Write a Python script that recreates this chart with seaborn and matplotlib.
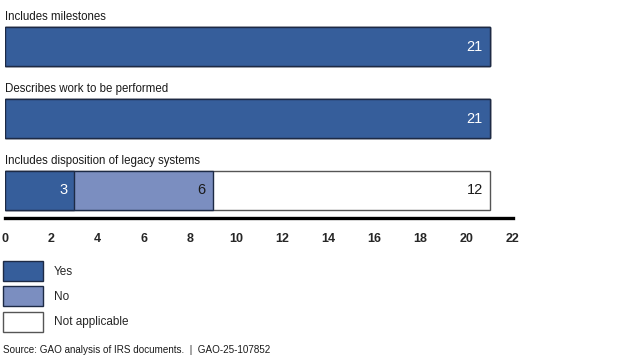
import matplotlib
matplotlib.use("Agg")
import matplotlib.pyplot as plt
import seaborn as sns
from matplotlib.patches import Patch

# ──────────────────────────────────────────────
# Data
# ──────────────────────────────────────────────
categories = [
    "Includes milestones",
    "Describes work to be performed",
    "Includes disposition of legacy systems",
]
yes_counts = [21, 21, 3]
no_counts = [0, 0, 6]
na_counts = [0, 0, 12]
legend_labels = ["Yes", "No", "Not applicable"]
x_ticks = list(range(0, 23, 2))
source_note = "Source: GAO analysis of IRS documents.  |  GAO-25-107852"

# ──────────────────────────────────────────────
# Style
# ──────────────────────────────────────────────
YES_COLOR = "#365e9b"
NO_COLOR = "#7b8ec0"
NA_COLOR = "#ffffff"
EDGE_DARK = "#1d2a45"
EDGE_GRAY = "#555555"

sns.set_style("white")
plt.rcParams["font.family"] = ["Liberation Sans", "DejaVu Sans"]

fig = plt.figure(figsize=(6.43, 3.63), dpi=100)
W, H = 643, 363
# axes spans x 0..22 over px 5..513, and px 0..218 vertically
ax = fig.add_axes([5 / W, (H - 218) / H, 508 / W, 218 / H])

yes_no = [y + n for y, n in zip(yes_counts, no_counts)]
totals = [y + n + a for y, n, a in zip(yes_counts, no_counts, na_counts)]

bar_w = 0.54
common = dict(y=categories, orient="h", width=bar_w, saturation=1, ax=ax)
sns.barplot(x=totals, color=NA_COLOR, edgecolor=EDGE_GRAY, linewidth=1.0, **common)
sns.barplot(x=yes_no, color=NO_COLOR, edgecolor=EDGE_DARK, linewidth=1.0, **common)
sns.barplot(x=yes_counts, color=YES_COLOR, edgecolor=EDGE_DARK, linewidth=1.0, **common)

# value labels at right end of each segment
for i in range(len(categories)):
    segs = [
        (yes_counts[i], yes_counts[i], "white"),
        (no_counts[i], yes_no[i], "#1a1a1a"),
        (na_counts[i], totals[i], "#1a1a1a"),
    ]
    for val, end, col in segs:
        if val > 0:
            ax.annotate(str(val), xy=(end, i), xytext=(-5, 0),
                        textcoords="offset points", ha="right", va="center",
                        fontsize=10.5, color=col)
    ax.annotate(categories[i], xy=(0, i - bar_w / 2), xytext=(0, 3),
                textcoords="offset points", ha="left", va="bottom",
                fontsize=8.3, color="#1a1a1a")

ax.set_xlim(0, 22)
ax.set_ylim(2.382, -0.646)
ax.set_xticks(x_ticks)
ax.set_xticklabels([str(t) for t in x_ticks], fontweight="bold", fontsize=9)
ax.tick_params(axis="x", length=0, pad=11)
ax.set_yticks([])
ax.set_xlabel("")
ax.set_ylabel("")
for side in ["top", "left", "right"]:
    ax.spines[side].set_visible(False)
ax.spines["bottom"].set_linewidth(2.4)
ax.spines["bottom"].set_color("black")

# legend
handles = [
    Patch(facecolor=YES_COLOR, edgecolor=EDGE_DARK, linewidth=1.0),
    Patch(facecolor=NO_COLOR, edgecolor=EDGE_DARK, linewidth=1.0),
    Patch(facecolor=NA_COLOR, edgecolor=EDGE_GRAY, linewidth=1.0),
]
fig.legend(handles, legend_labels, loc="upper left",
           bbox_to_anchor=(3 / W, 1 - 261 / H), frameon=False, fontsize=8.5,
           handlelength=3.39, handleheight=2.229, labelspacing=0.45,
           handletextpad=0.9, borderpad=0, borderaxespad=0)

fig.text(3 / W, 1 - 350 / H, source_note, fontsize=7.1, va="center",
         ha="left", color="#1a1a1a")

fig.savefig("out.png", dpi=100)
